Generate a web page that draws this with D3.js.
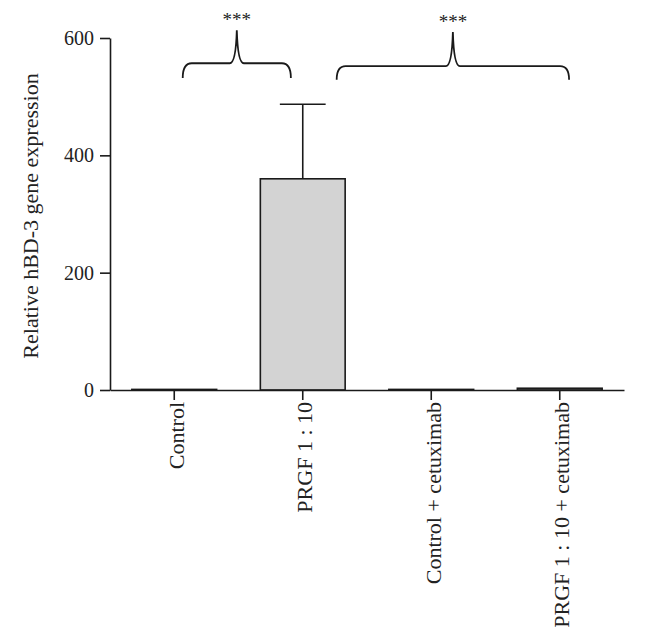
<!DOCTYPE html>
<html>
<head>
<meta charset="utf-8">
<script src="https://cdn.jsdelivr.net/npm/d3@7"></script>
<style>
  body { margin: 0; background: #fff; }
  text { font-family: "Liberation Serif", "DejaVu Serif", serif; fill: #222; }
</style>
</head>
<body>
<div id="chart"></div>
<script>
// Values
const categories = ['Control', 'PRGF 1 : 10', 'Control + cetuximab', 'PRGF 1 : 10 + cetuximab'];
const means = [1, 360, 1, 3];
const errors = [0, 127, 0, 0];
const yTicks = [0, 200, 400, 600];
const comparisons = [
  { from: 'Control', to: 'PRGF 1 : 10', label: '***' },
  { from: 'PRGF 1 : 10', to: 'PRGF 1 : 10 + cetuximab', label: '***' },
];

const width = 657;
const height = 640;

const svg = d3.select('#chart')
  .append('svg')
  .attr('width', width)
  .attr('height', height);

const x = d3.scaleBand()
  .domain(categories)
  .range([110, 624])
  .paddingInner(0.34)
  .paddingOuter(0.17);

const y = d3.scaleLinear()
  .domain([0, 600])
  .range([390, 38]);

const bw = x.bandwidth();

// bars
svg.append('g')
  .selectAll('rect')
  .data(categories)
  .join('rect')
  .attr('x', (d) => x(d))
  .attr('width', bw)
  .attr('y', (d, i) => y(means[i]))
  .attr('height', (d, i) => y(0) - y(means[i]))
  .attr('fill', '#d3d3d3')
  .attr('stroke', '#1a1a1a')
  .attr('stroke-width', 1.6);

// error bars (upper only)
const err = svg.append('g')
  .attr('stroke', '#1a1a1a')
  .attr('stroke-width', 1.6);
categories.forEach((c, i) => {
  if (!errors[i]) return;
  const cx = x(c) + bw / 2;
  err.append('line')
    .attr('x1', cx).attr('x2', cx)
    .attr('y1', y(means[i])).attr('y2', y(means[i] + errors[i]));
  err.append('line')
    .attr('x1', cx - bw * 0.27).attr('x2', cx + bw * 0.27)
    .attr('y1', y(means[i] + errors[i])).attr('y2', y(means[i] + errors[i]));
});

// y axis
const yAxis = svg.append('g')
  .attr('transform', `translate(${110},0)`)
  .call(d3.axisLeft(y).tickValues(yTicks).tickSize(10).tickSizeOuter(0).tickPadding(6));
yAxis.selectAll('path, line').attr('stroke', '#1a1a1a').attr('stroke-width', 1.6);
yAxis.selectAll('text')
  .attr('font-size', 20)
  .attr('fill', '#222')
  .style('font-family', '"Liberation Serif", serif');

// x axis
const xAxis = svg.append('g')
  .attr('transform', `translate(0,${y(0)})`)
  .call(d3.axisBottom(x).tickSize(10).tickSizeOuter(0));
xAxis.selectAll('path, line').attr('stroke', '#1a1a1a').attr('stroke-width', 1.6);
xAxis.selectAll('text')
  .attr('font-size', 22)
  .attr('fill', '#222')
  .style('font-family', '"Liberation Serif", serif')
  .attr('transform', 'rotate(-90)')
  .attr('text-anchor', 'end')
  .attr('x', -12)
  .attr('y', 2)
  .attr('dy', '0.35em');

// y axis title
svg.append('text')
  .attr('transform', `translate(${30},${216}) rotate(-90)`)
  .attr('text-anchor', 'middle')
  .attr('dy', '0.35em')
  .attr('font-size', 22)
  .text('Relative hBD-3 gene expression');

// significance braces
const braceSpots = [
  { x0: 0.6, x1: 0.36, flat: 557, end: 532, peak: 613 },
  { x0: 0.9, x1: 0.61, flat: 552, end: 529, peak: 610 },
];

function bracePath(x0, x1, yf, ye, yp) {
  const xm = (x0 + x1) / 2;
  return `M${x0},${ye} Q${x0},${yf} ${x0 + 9},${yf} L${xm - 7},${yf} ` +
    `Q${xm - 1},${yf} ${xm},${yp} Q${xm + 1},${yf} ${xm + 7},${yf} ` +
    `L${x1 - 9},${yf} Q${x1},${yf} ${x1},${ye}`;
}

comparisons.forEach((c, i) => {
  const s = braceSpots[i];
  const x0 = x(c.from) + bw * s.x0;
  const x1 = x(c.to) + bw * s.x1;
  svg.append('path')
    .attr('d', bracePath(x0, x1, y(s.flat), y(s.end), y(s.peak)))
    .attr('fill', 'none')
    .attr('stroke', '#1a1a1a')
    .attr('stroke-width', 1.8);
  svg.append('text')
    .attr('x', (x0 + x1) / 2)
    .attr('y', y(s.peak) - 4)
    .attr('text-anchor', 'middle')
    .attr('font-size', 19)
    .text(c.label);
});
</script>
</body>
</html>
